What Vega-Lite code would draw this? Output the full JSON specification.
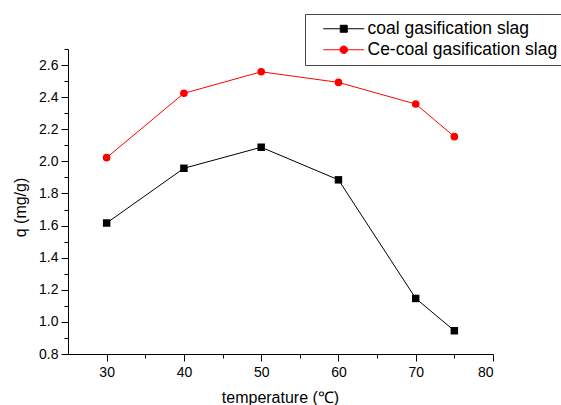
{
  "$schema": "https://vega.github.io/schema/vega-lite/v6.json",
  "width": 425,
  "height": 305,
  "autosize": {"type": "none"},
  "padding": {"left": 68, "top": 49, "right": 68, "bottom": 51},
  "background": "white",
  "config": {
    "view": {"stroke": null},
    "font": "Liberation Sans",
    "axis": {"grid": false, "domainColor": "black", "tickColor": "black", "labelColor": "black", "titleColor": "black", "labelFont": "Liberation Sans", "titleFont": "Liberation Sans", "titleFontWeight": "normal", "labelFontSize": 14, "titleFontSize": 16, "domainWidth": 1, "tickWidth": 1}
  },
  "data": {
    "values": [
      {"series": "coal gasification slag", "temperature": 30, "q": 1.616},
      {"series": "coal gasification slag", "temperature": 40, "q": 1.957},
      {"series": "coal gasification slag", "temperature": 50, "q": 2.088},
      {"series": "coal gasification slag", "temperature": 60, "q": 1.885},
      {"series": "coal gasification slag", "temperature": 70, "q": 1.146},
      {"series": "coal gasification slag", "temperature": 75, "q": 0.945},
      {"series": "Ce-coal gasification slag", "temperature": 30, "q": 2.023},
      {"series": "Ce-coal gasification slag", "temperature": 40, "q": 2.424},
      {"series": "Ce-coal gasification slag", "temperature": 50, "q": 2.558},
      {"series": "Ce-coal gasification slag", "temperature": 60, "q": 2.492},
      {"series": "Ce-coal gasification slag", "temperature": 70, "q": 2.357},
      {"series": "Ce-coal gasification slag", "temperature": 75, "q": 2.154}
    ]
  },
  "resolve": {"axis": {"x": "independent", "y": "independent"}},
  "layer": [
    {
      "mark": {"type": "line", "strokeWidth": 1},
      "encoding": {
        "x": {"field": "temperature", "type": "quantitative", "scale": {"domain": [25, 80], "nice": false, "zero": false},
          "axis": {"orient": "bottom", "values": [30, 40, 50, 60, 70, 80], "tickSize": 7, "labelPadding": 4, "title": "temperature (℃)", "titleBaseline": "alphabetic", "titleY": 48, "titleX": 212, "titleAnchor": "middle", "titleAlign": "center"}},
        "y": {"field": "q", "type": "quantitative", "scale": {"domain": [0.8, 2.7], "nice": false, "zero": false},
          "axis": {"orient": "left", "values": [0.8, 1.0, 1.2, 1.4, 1.6, 1.8, 2.0, 2.2, 2.4, 2.6], "format": ".1f", "tickSize": 7, "labelPadding": 3, "title": "q (mg/g)", "titleBaseline": "alphabetic", "titleX": -43, "titleY": 158, "titleAngle": -90, "titleAlign": "center"}},
        "color": {"field": "series", "type": "nominal", "scale": {"domain": ["coal gasification slag", "Ce-coal gasification slag"], "range": ["black", "red"]},
          "legend": {"title": null, "orient": "none", "legendX": 237, "legendY": -35, "direction": "vertical",
            "padding": 6, "strokeColor": "#444", "fillColor": "white",
            "symbolSize": 100, "symbolOffset": 24, "labelOffset": 15, "rowPadding": 2,
            "labelFont": "Liberation Sans", "labelFontSize": 17.5, "labelColor": "black", "labelLimit": 400,
            "symbolStrokeWidth": 1,
            "encode": {"symbols": {"update": {
              "shape": {"signal": "datum.value === 'coal gasification slag' ? 'M-4.1,0H4.1M-0.7,-0.7H0.7V0.7H-0.7Z' : 'M-4.1,0H4.1M0.75,0A0.75,0.75,0,1,1,-0.75,0A0.75,0.75,0,1,1,0.75,0Z'"},
              "stroke": {"signal": "datum.value === 'coal gasification slag' ? 'black' : 'red'"},
              "fill": {"signal": "datum.value === 'coal gasification slag' ? 'black' : 'red'"},
              "size": {"value": 100},
              "strokeWidth": {"value": 1},
              "opacity": {"value": 1}
            }}}
          }},
        "detail": {"field": "series"}
      }
    },
    {
      "transform": [{"filter": "datum.series === 'coal gasification slag'"}],
      "mark": {"type": "square", "filled": true, "size": 56, "opacity": 1, "color": "black"},
      "encoding": {
        "x": {"field": "temperature", "type": "quantitative", "axis": null},
        "y": {"field": "q", "type": "quantitative", "axis": null}
      }
    },
    {
      "transform": [{"filter": "datum.series === 'Ce-coal gasification slag'"}],
      "mark": {"type": "circle", "size": 58, "opacity": 1, "color": "red"},
      "encoding": {
        "x": {"field": "temperature", "type": "quantitative", "axis": null},
        "y": {"field": "q", "type": "quantitative", "axis": null}
      }
    },
    {
      "mark": {"type": "point", "opacity": 0},
      "encoding": {
        "x": {"field": "temperature", "type": "quantitative", "axis": {"orient": "bottom", "values": [35, 45, 55, 65, 75], "labels": false, "domain": false, "tickSize": 4, "title": null}},
        "y": {"field": "q", "type": "quantitative", "axis": {"orient": "left", "values": [0.9, 1.1, 1.3, 1.5, 1.7, 1.9, 2.1, 2.3, 2.5, 2.7], "labels": false, "domain": false, "tickSize": 4, "title": null}}
      }
    }
  ]
}
